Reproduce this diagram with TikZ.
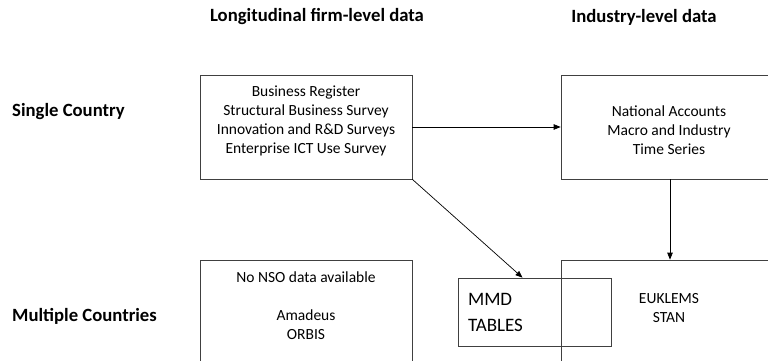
\documentclass[tikz,border=0pt]{standalone}
\usepackage{fontspec}
\setmainfont{Carlito}
\usetikzlibrary{arrows.meta}
\tikzset{
  databox/.style={draw=black!75, line width=0.7pt, rectangle, inner sep=0pt},
  boxtext/.style={align=center, inner sep=0pt, font=\fontsize{15.5}{19}\selectfont},
  headtext/.style={inner sep=0pt, font=\bfseries\fontsize{18.7}{22}\selectfont},
  flow/.style={draw=black, line width=0.7pt, -{Triangle[length=7pt,width=5.5pt]}}
}

\begin{document}
\begin{tikzpicture}[x=1pt,y=-1pt]
		%%%%% START %%%%%
		\clip (0,0) rectangle (768,361);
		
		\node[headtext] (firmhead) at (317,17) {Longitudinal firm-level data};
		\node[headtext] (indhead) at (644,17) {Industry-level data};
		\node[headtext, anchor=west] (single) at (12,112) {Single Country};
		\node[headtext, anchor=west] (multi) at (12,316) {Multiple Countries};
		
		% single country row
		\node[databox, minimum width=212, minimum height=104] (firmsingle) at (306,127) {};
		\node[boxtext] (firmsingletext) at (306,120.5) {Business Register\\Structural Business Survey\\Innovation and R\&D Surveys\\Enterprise ICT Use Survey};
		\node[databox, minimum width=212, minimum height=104] (indsingle) at (667,127) {};
		\node[boxtext] (indsingletext) at (669,130) {National Accounts\\Macro and Industry\\Time Series};
		
		% multiple countries row
		\node[databox, minimum width=212, minimum height=120] (firmmulti) at (306,320) {};
		\node[boxtext] (firmmultitext) at (306,305.5) {No NSO data available\\[19pt]Amadeus\\ORBIS};
		\node[databox, minimum width=212, minimum height=120] (indmulti) at (667,320) {};
		\node[boxtext] (indmultitext) at (669,308) {EUKLEMS\\STAN};
		
		\node[databox, minimum width=153, minimum height=68, align=left, text width=133,
		  font=\fontsize{19}{26}\selectfont] (mmd) at (534.5,312) {MMD\\TABLES};
		
		\draw[flow] (firmsingle.east) -- (indsingle.west);
		\draw[flow] ([xshift=3pt]indsingle.south) -- ([xshift=3pt]indmulti.north);
		\draw[flow] (firmsingle.south east) -- ([xshift=-12pt]mmd.north);
		
		%%%%% END %%%%%
\end{tikzpicture}
\end{document}
